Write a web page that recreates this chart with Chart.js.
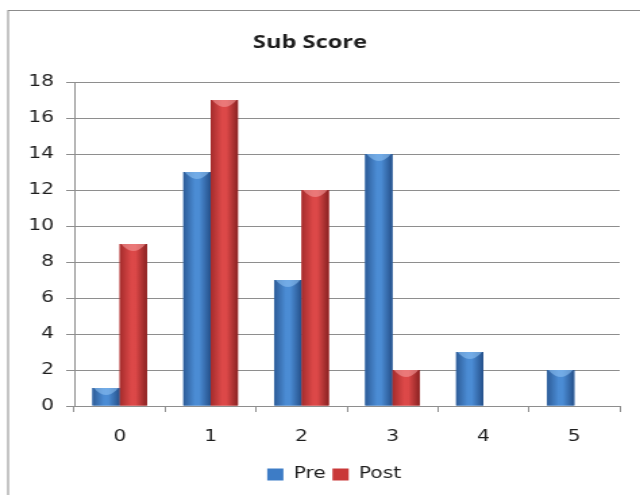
<!DOCTYPE html>
<html>
<head>
<meta charset="utf-8">
<script src="https://cdn.jsdelivr.net/npm/chart.js@4.4.1/dist/chart.umd.min.js"></script>
<style>
  html, body { margin: 0; padding: 0; background: #fff; overflow: hidden; }
  /* the chart is laid out on a narrower canvas and widened to 640px */
  #wrap { width: 474px; height: 495px; transform: scaleX(1.3502); transform-origin: 0 0; }
  #c { display: block; }
</style>
</head>
<body>
<div id="wrap"><canvas id="c" width="474" height="495"></canvas></div>
<script>
const categories = ['0', '1', '2', '3', '4', '5'];
const preValues = [1, 13, 7, 14, 3, 2];
const postValues = [9, 17, 12, 2, 0, 0];
const yTicks = [0, 2, 4, 6, 8, 10, 12, 14, 16, 18];

// cylinder-like shading: dark edges, bright centre, pale bevel on top
const shades = {
  Pre:  { edgeL: '#2d5c98', mid: '#4b8cd4', edgeR: '#25508a', cap: '#8cc0f2', solid: '#3d7cc6' },
  Post: { edgeL: '#a42c2c', mid: '#dc4848', edgeR: '#8a2222', cap: '#f59a9a', solid: '#c93838' }
};

const shadingPlugin = {
  id: 'shading',
  afterDatasetsDraw(chart) {
    const ctx = chart.ctx;
    chart.data.datasets.forEach((ds, i) => {
      const s = shades[ds.label];
      chart.getDatasetMeta(i).data.forEach(el => {
        const h = el.base - el.y;
        if (h < 1) return;
        const l = el.x - el.width / 2, r = el.x + el.width / 2, t = el.y;
        ctx.save();
        const g = ctx.createLinearGradient(l, 0, r, 0);
        g.addColorStop(0, s.edgeL);
        g.addColorStop(0.42, s.mid);
        g.addColorStop(0.58, s.mid);
        g.addColorStop(1, s.edgeR);
        ctx.fillStyle = g;
        ctx.fillRect(l, t, r - l, h);
        const d = Math.min(8, h * 0.6);
        ctx.globalAlpha = 0.6;
        ctx.fillStyle = s.cap;
        ctx.beginPath();
        ctx.moveTo(l + 1, t);
        ctx.lineTo(r - 1, t);
        ctx.lineTo(r - 3, t + d * 0.35);
        ctx.quadraticCurveTo(el.x, t + d * 1.4, l + 3, t + d * 0.35);
        ctx.closePath();
        ctx.fill();
        ctx.restore();
      });
    });
  }
};

// outer frame, and the legend nudged right of the canvas centre
const framePlugin = {
  id: 'frame',
  afterLayout(chart) {
    if (chart.legend) {
      chart.legend.left += 18;
      chart.legend.right += 18;
    }
  },
  afterDraw(chart) {
    const ctx = chart.ctx;
    ctx.save();
    ctx.strokeStyle = '#8c8c8c';
    ctx.lineWidth = 1;
    ctx.strokeRect(6, 10.5, 520, 520);
    ctx.restore();
  }
};

const gridColor = '#8e8e8e';
const textFont = { family: 'DejaVu Sans', size: 15 };

new Chart(document.getElementById('c'), {
  type: 'bar',
  data: {
    labels: categories,
    datasets: [
      { label: 'Pre', data: preValues, backgroundColor: shades.Pre.solid, borderWidth: 0 },
      { label: 'Post', data: postValues, backgroundColor: shades.Post.solid, borderWidth: 0 }
    ]
  },
  plugins: [shadingPlugin, framePlugin],
  options: {
    responsive: false,
    animation: false,
    events: [],
    layout: { padding: { left: 0, right: 15, top: 0, bottom: 3 } },
    datasets: { bar: { categoryPercentage: 0.6, barPercentage: 1.0 } },
    scales: {
      x: {
        grid: { display: true, drawOnChartArea: false, drawTicks: true, tickLength: 6, color: gridColor, offset: true },
        border: { display: true, color: gridColor, width: 1 },
        ticks: { color: '#1e1e1e', font: textFont, padding: 16 }
      },
      y: {
        min: 0, max: 18,
        afterBuildTicks(scale) { scale.ticks = yTicks.map(v => ({ value: v })); },
        afterFit(scale) { scale.width = 55; },
        grid: { color: gridColor, lineWidth: 1, drawTicks: true, tickLength: 6 },
        border: { display: true, color: gridColor, width: 1 },
        ticks: { color: '#1e1e1e', font: textFont, padding: 9 }
      }
    },
    plugins: {
      title: {
        display: true,
        text: 'Sub Score',
        color: '#1e1e1e',
        font: { family: 'Open Sans', size: 17.5, weight: 'bold' },
        padding: { top: 33, bottom: 28 }
      },
      legend: {
        position: 'bottom',
        labels: { color: '#1e1e1e', font: textFont, boxWidth: 12, boxHeight: 12, padding: 5 }
      },
      tooltip: { enabled: false }
    }
  }
});
</script>
</body>
</html>
